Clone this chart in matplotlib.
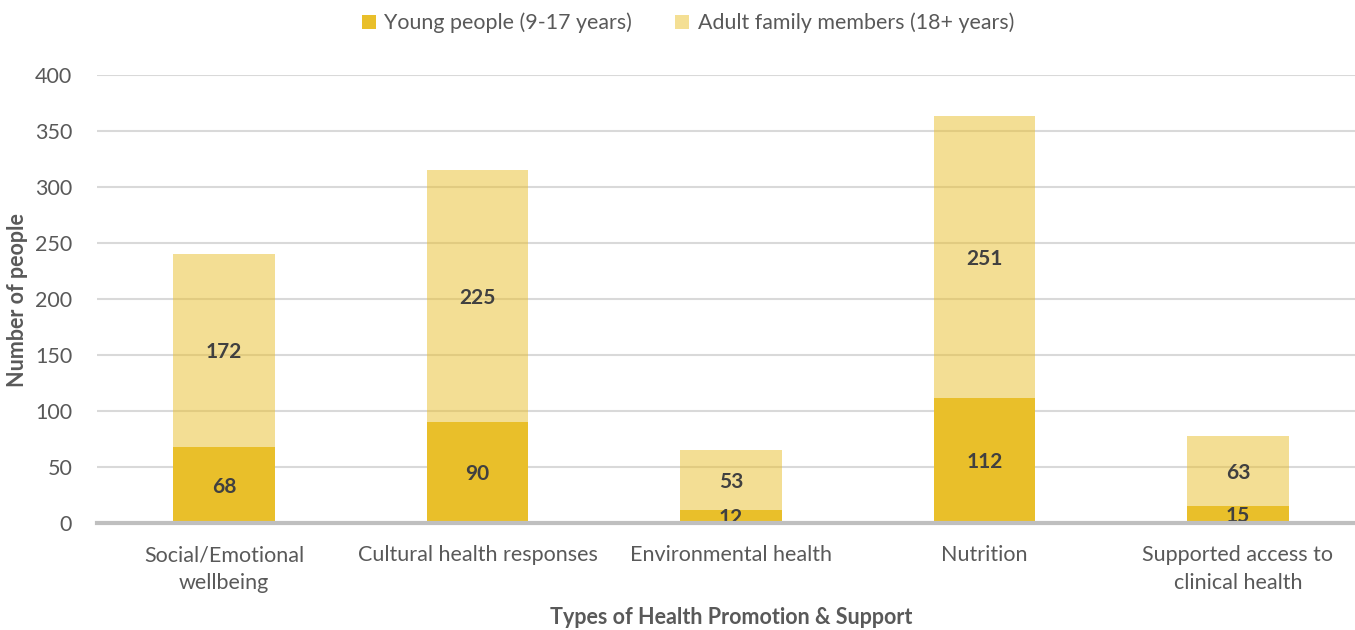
import matplotlib
matplotlib.use("Agg")
import matplotlib.pyplot as plt
from matplotlib.patches import Patch
import numpy as np

categories = ["Social/Emotional\nwellbeing", "Cultural health responses",
              "Environmental health", "Nutrition", "Supported access to\nclinical health"]
young = [68, 90, 12, 112, 15]
adult = [172, 225, 53, 251, 63]
series_names = ["Young people (9-17 years)", "Adult family members (18+ years)"]
yticks = [0, 50, 100, 150, 200, 250, 300, 350, 400]

plt.rcParams['font.family'] = ['Lato', 'DejaVu Sans']

W, H = 1355, 630
fig = plt.figure(figsize=(W / 100, H / 100), dpi=100)
left, right, top, bottom = 97.25, 1364.75, 75, 523
ax = fig.add_axes([left / W, (H - bottom) / H, (right - left) / W, (bottom - top) / H])

dark = "#E9BF2A"
light = "#F4DF94"
x = np.arange(len(categories))
bw = 0.4

ax.yaxis.grid(True, color="#D9D9D9", linewidth=1.5)
ax.set_axisbelow(True)
b1 = ax.bar(x, young, width=bw, color=dark, zorder=2)
b2 = ax.bar(x, adult, width=bw, bottom=young, color=dark, alpha=0.5, zorder=2)

for i in range(len(x)):
    ax.text(x[i], young[i] / 2 - 1.5, str(young[i]), ha="center", va="center",
            fontsize=15, fontweight="bold", color="#404040", zorder=5)
    ax.text(x[i], young[i] + adult[i] / 2 - 1.5, str(adult[i]), ha="center", va="center",
            fontsize=15, fontweight="bold", color="#404040", zorder=5)

ax.set_xlim(-0.5, len(x) - 0.5)
ax.set_ylim(0, 400)
ax.set_yticks(yticks)
ax.set_xticks(x)
ax.set_xticklabels(categories, fontsize=15.5, color="#595959", linespacing=1.5)
ax.tick_params(axis="y", labelsize=15.5, colors="#595959", length=0, pad=18)
ax.tick_params(axis="x", length=0, pad=16)
for s in ["top", "right", "left"]:
    ax.spines[s].set_visible(False)
ax.spines["bottom"].set_color("#BFBFBF")
ax.spines["bottom"].set_linewidth(3)
ax.spines["bottom"].set_zorder(6)

fig.text(18 / W, 1 - 300 / H, "Number of people", rotation=90, ha="center", va="center",
         fontsize=15.5, fontweight="bold", color="#595959")
fig.text(731 / W, 1 - 618 / H, "Types of Health Promotion & Support", ha="center", va="center",
         fontsize=15.5, fontweight="bold", color="#595959")

handles = [Patch(facecolor=dark), Patch(facecolor=light)]
fig.legend(handles, series_names, loc="center", bbox_to_anchor=(688 / W, 1 - 23 / H),
           ncol=2, frameon=False, fontsize=15.4, labelcolor="#595959",
           handlelength=0.65, handleheight=0.65, handletextpad=0.4, columnspacing=2.0)

fig.savefig("out.png", dpi=100)
